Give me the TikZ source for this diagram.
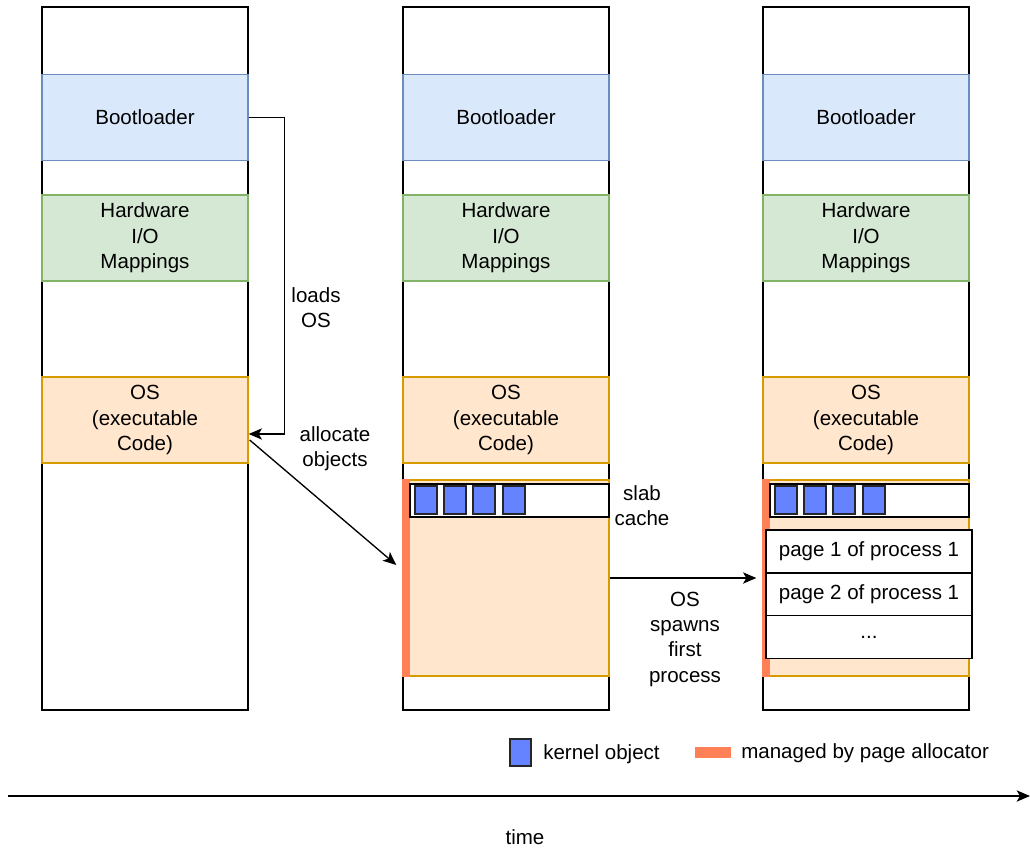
\documentclass[tikz,border=0pt]{standalone}
\usepackage{fontspec}
\setmainfont{Liberation Sans}
\usetikzlibrary{arrows.meta,calc}

\definecolor{bootfill}{HTML}{DAE8FC}
\definecolor{bootline}{HTML}{6C8EBF}
\definecolor{hwfill}{HTML}{D5E8D4}
\definecolor{hwline}{HTML}{82B366}
\definecolor{osfill}{HTML}{FFE6CC}
\definecolor{osline}{HTML}{D79B00}
\definecolor{pagealloc}{HTML}{FF7F57}
\definecolor{kobj}{HTML}{6683FF}

\begin{document}
\begin{tikzpicture}[x=0.75pt,y=-0.75pt,
        every node/.style={font=\fontsize{15.4}{19}\selectfont, align=center},
        memcol/.style={draw, line width=1pt, minimum width=154.5pt, minimum height=527.25pt, inner sep=0pt},
        block/.style={draw, line width=1pt, minimum width=154.5pt, minimum height=64.5pt, inner sep=0pt},
        bootblk/.style={block, fill=bootfill, draw=bootline},
        hwblk/.style={block, fill=hwfill, draw=hwline},
        osblk/.style={block, fill=osfill, draw=osline},
        heap/.style={osblk, minimum height=147pt},
        slab/.style={draw, fill=white, line width=1pt, minimum width=149.25pt, minimum height=24.75pt, inner sep=0pt},
        kobject/.style={draw=black!85, fill=kobj, line width=1pt, minimum width=16.5pt, minimum height=21pt, inner sep=0pt},
        page/.style={draw, fill=white, line width=1pt, minimum width=154.5pt, minimum height=32.25pt, inner sep=0pt},
        conn/.style={line width=1pt, -{Stealth[length=10pt,width=8.5pt,inset=2.5pt]}}]
    \useasboundingbox (0,0) rectangle (1030,849);

    % three snapshots of memory
    \foreach \i/\x in {1/42,2/403,3/763}{
        \node[memcol] (col\i) at (\x+103,358.5) {};
        \node[bootblk] (boot\i) at (\x+103,117.5) {Bootloader};
        \node[hwblk] (hw\i) at (\x+103,238) {Hardware\\I/O\\Mappings};
        \node[osblk] (os\i) at (\x+103,420) {OS\\(executable\\Code)};
    }

    % heap with slab cache
    \foreach \i/\x in {2/403,3/763}{
        \node[heap] (heap\i) at (\x+103,578) {};
        \fill[pagealloc] (\x-0.7,479.3) rectangle (\x+7,676.7);
        \node[slab] (slab\i) at (\x+106.5,500.5) {};
        \foreach \k/\dx in {1/23,2/52,3/81,4/111}
            \node[kobject] (obj\i\k) at (\x+\dx,500) {};
    }

    \node[page] (pg1) at (869,551.5) {page 1 of process 1};
    \node[page] (pg2) at (869,594.5) {page 2 of process 1};
    \node[page] (pg3) at (869,637) {...};

    \node (loadslbl) at (316,307.5) {loads\\OS};
    \node (alloclbl) at (335,448.5) {allocate\\objects};
    \node (slablbl) at (642,505.5) {slab\\cache};
    \node (spawnlbl) at (685,639) {OS\\spawns\\first\\process};

    \draw[conn] (boot1.east) -- ++(36,0) |- ($(os1.east)+(0,14)$);
    \draw[conn] ($(os1.east)+(1,20)$) -- ($(heap2.west)+(-6,-13)$);
    \draw[conn] (heap2.east) -- ($(heap3.west)+(-6,0)$);

    % legend
    \node[kobject, minimum width=15.75pt, minimum height=20.25pt] (legobj) at (520.5,752.5) {};
    \node[anchor=west, inner sep=0pt] (legobjtext) at (543,754) {kernel object};
    \node[fill=pagealloc, minimum width=27pt, minimum height=8.25pt, inner sep=0pt] (legpa) at (713,752.5) {};
    \node[anchor=west, inner sep=0pt] (legpatext) at (741,753) {managed by page allocator};

    % time axis
    \coordinate (t0) at (8,796);
    \coordinate (t1) at (1030,796);
    \draw[conn] (t0) -- (t1);
    \node (timelbl) at (525,837) {time};
\end{tikzpicture}
\end{document}
